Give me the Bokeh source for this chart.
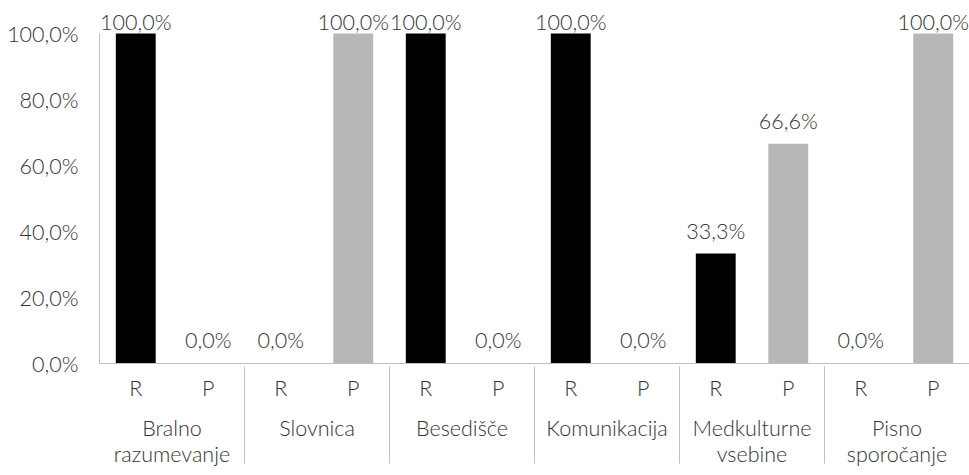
from bokeh.plotting import figure
from bokeh.models import FactorRange, Range1d, ColumnDataSource, FixedTicker
from bokeh.embed import file_html
from bokeh.resources import INLINE
from bokeh.core.properties import value

groups = ["Bralno\nrazumevanje", "Slovnica", "Besedišče", "Komunikacija",
          "Medkulturne\nvsebine", "Pisno\nsporočanje"]
subs = ["R", "P"]
r_vals = [100.0, 0.0, 100.0, 100.0, 33.3, 0.0]
p_vals = [0.0, 100.0, 0.0, 0.0, 66.6, 100.0]
y_ticks = [0, 20, 40, 60, 80, 100]
y_tick_labels = ["0,0%", "20,0%", "40,0%", "60,0%", "80,0%", "100,0%"]
sub_colors = {"R": "#000000", "P": "#b7b7b7"}

FONT = "Lato Light"
FS = "21.5px"
TXT = "#333333"
GRID = "#bfbfbf"

x, tops, cols, labels, label_y = [], [], [], [], []
for g, rv, pv in zip(groups, r_vals, p_vals):
    for s, v in (("R", rv), ("P", pv)):
        x.append((g, s))
        tops.append(v)
        cols.append(sub_colors[s])
        labels.append(("%.1f%%" % v).replace(".", ","))
        # label centre a little above the bar, kept inside the chart top
        label_y.append(min(v + 7.0, 103.6))

src = ColumnDataSource(dict(x=x, top=tops, color=cols, label=labels, ly=label_y))

p = figure(
    x_range=FactorRange(*x, group_padding=0, subgroup_padding=0,
                        factor_padding=0, range_padding=0),
    y_range=Range1d(0, 110),
    width=969, height=475,
    min_border_left=99, min_border_right=0, min_border_top=0,
    min_border_bottom=112,
    output_backend="svg", toolbar_location=None,
)
p.outline_line_color = None
p.xgrid.visible = False
p.ygrid.visible = False

p.vbar(x="x", top="top", width=0.55, source=src, fill_color="color",
       line_color=None)
p.text(x="x", y="ly", text="label", source=src, text_align="center",
       text_baseline="middle", text_font=value(FONT),
       text_font_size=FS, text_color=TXT)

ya = p.yaxis[0]
ya.ticker = FixedTicker(ticks=y_ticks)
ya.bounds = (-34, 100)
ya.major_label_overrides = {t: l for t, l in zip(y_ticks, y_tick_labels)}
ya.major_tick_line_color = None
ya.minor_tick_line_color = None
ya.major_tick_out = 0
ya.major_tick_in = 0
ya.major_label_standoff = 21
ya.axis_line_color = GRID
ya.major_label_text_font = FONT
ya.major_label_text_font_size = FS
ya.major_label_text_color = TXT

xa = p.xaxis[0]
xa.major_tick_line_color = None
xa.major_tick_out = 0
xa.major_tick_in = 0
xa.axis_line_color = GRID
xa.major_label_standoff = 11
xa.major_label_text_font = FONT
xa.major_label_text_font_size = FS
xa.major_label_text_color = TXT
xa.group_text_font = FONT
xa.group_text_font_size = FS
xa.group_text_font_style = "normal"
xa.group_text_color = TXT
xa.group_text_line_height = 1.0
xa.separator_line_color = GRID
xa.separator_line_width = 1

open("out.html", "w").write(file_html(p, INLINE))
